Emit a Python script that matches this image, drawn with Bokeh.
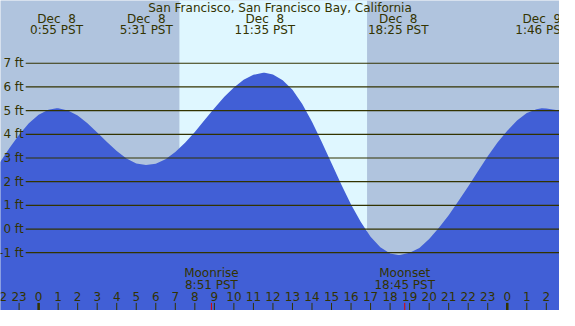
from bokeh.plotting import figure
from bokeh.models import Range1d
from bokeh.core.properties import value
from bokeh.embed import file_html
from bokeh.resources import INLINE

title_text = "San Francisco, San Francisco Bay, California"

# tide height (ft), hours after Dec 8 0:00 PST
tide_hours = [-2, -1.5, -1, -0.5, 0, 0.5, 0.917, 1, 1.5, 2, 2.5, 3, 3.5, 4, 4.5,
              5, 5.5, 6, 6.5, 7, 7.5, 8, 8.5, 9, 9.5, 10, 10.5, 11, 11.5, 11.583,
              12, 12.5, 13, 13.5, 14, 14.5, 15, 15.5, 16, 16.5, 17, 17.5, 18,
              18.417, 18.5, 19, 19.5, 20, 20.5, 21, 21.5, 22, 22.5, 23, 23.5,
              24, 24.5, 25, 25.5, 25.767, 26, 26.5, 27]
tide_ft = [2.79, 3.41, 3.98, 4.47, 4.83, 5.04, 5.10, 5.10, 5.01, 4.79, 4.47, 4.08,
           3.67, 3.29, 2.98, 2.77, 2.70, 2.76, 2.95, 3.25, 3.64, 4.10, 4.60, 5.10,
           5.57, 5.98, 6.30, 6.51, 6.60, 6.60, 6.53, 6.28, 5.88, 5.28, 4.53, 3.68,
           2.78, 1.88, 1.04, 0.30, -0.33, -0.77, -1.03, -1.10, -1.10, -1.00, -0.80,
           -0.42, 0.05, 0.58, 1.18, 1.80, 2.44, 3.07, 3.65, 4.15, 4.58, 4.90, 5.06,
           5.10, 5.09, 5.03, 4.92]

# high / low tide labels
ext_hours = [0.917, 5.517, 11.583, 18.417, 25.767]
ext_days = ["Dec \u00a08", "Dec \u00a08", "Dec \u00a08", "Dec \u00a08", "Dec \u00a09"]
ext_times = ["0:55 PST", "5:31 PST", "11:35 PST", "18:25 PST", "1:46 PST"]

# sunrise / sunset (hours)
sun_hours = [7.21, 16.82]

# moon events
moon_hours = [8.85, 18.75]
moon_names = ["Moonrise", "Moonset"]
moon_times = ["8:51 PST", "18:45 PST"]

# height grid
grid_ft = [-1, 0, 1, 2, 3, 4, 5, 6, 7]
grid_labels = ["-1 ft", "0 ft", "1 ft", "2 ft", "3 ft", "4 ft", "5 ft", "6 ft", "7 ft"]

# hour ticks
tick_hours = list(range(-2, 27))
tick_labels = [str(h % 24) for h in tick_hours]
midnight_hours = [0, 24]

NIGHT = "#b0c4de"
DAY = "#dff7ff"
BLUE = "#415fd6"
DARK = "#333300"
FONT = value("DejaVu Sans")
FS = "12px"

X0, X1 = -1.952, 26.675
Y0, Y1 = -3.44, 9.65

p = figure(width=559, height=310, x_range=Range1d(X0, X1), y_range=Range1d(Y0, Y1),
           output_backend="svg", toolbar_location=None, min_border=0,
           x_axis_location=None, y_axis_location=None)
p.grid.visible = False
p.outline_line_color = None
p.background_fill_color = NIGHT
p.border_fill_color = NIGHT

# daylight band
p.quad(left=[sun_hours[0]], right=[sun_hours[1]], bottom=[Y0 - 1], top=[Y1 + 1],
       fill_color=DAY, line_color=None)

# tide
p.varea(x=tide_hours, y1=[Y0 - 1] * len(tide_hours), y2=tide_ft, fill_color=BLUE)

# grid lines and labels
p.segment(x0=[-0.66] * len(grid_ft), x1=[X1 + 1] * len(grid_ft), y0=grid_ft, y1=grid_ft,
          line_color=DARK, line_width=1.2)
p.text(x=[-0.77] * len(grid_ft), y=grid_ft, text=grid_labels, text_align="right",
       text_baseline="middle", text_font=FONT, text_font_size=FS, text_color=DARK)

# title
p.text(x=[(X0 + X1) / 2], y=[9.33], text=[title_text], text_align="center",
       text_baseline="middle", text_font=FONT, text_font_size=FS, text_color=DARK)

# tide extreme labels
p.text(x=ext_hours, y=[8.87] * len(ext_hours), text=ext_days, text_align="center",
       text_baseline="middle", text_font=FONT, text_font_size=FS, text_color=DARK)
p.text(x=ext_hours, y=[8.39] * len(ext_hours), text=ext_times, text_align="center",
       text_baseline="middle", text_font=FONT, text_font_size=FS, text_color=DARK)

# moon labels
p.text(x=moon_hours, y=[-1.87] * len(moon_hours), text=moon_names, text_align="center",
       text_baseline="middle", text_font=FONT, text_font_size=FS, text_color=DARK)
p.text(x=moon_hours, y=[-2.36] * len(moon_hours), text=moon_times, text_align="center",
       text_baseline="middle", text_font=FONT, text_font_size=FS, text_color=DARK)

# hour labels and ticks
p.text(x=tick_hours, y=[-2.85] * len(tick_hours), text=tick_labels, text_align="center",
       text_baseline="middle", text_font=FONT, text_font_size=FS, text_color=DARK)
p.segment(x0=tick_hours, x1=tick_hours, y0=[-3.12] * len(tick_hours),
          y1=[Y0] * len(tick_hours), line_color=DARK, line_width=1)
p.segment(x0=midnight_hours, x1=midnight_hours, y0=[-3.12] * len(midnight_hours),
          y1=[Y0] * len(midnight_hours), line_color=DARK, line_width=2.5)
p.segment(x0=moon_hours, x1=moon_hours, y0=[-3.12] * len(moon_hours),
          y1=[Y0] * len(moon_hours), line_color="#e00000", line_width=1)

open("out.html", "w").write(file_html(p, INLINE))
